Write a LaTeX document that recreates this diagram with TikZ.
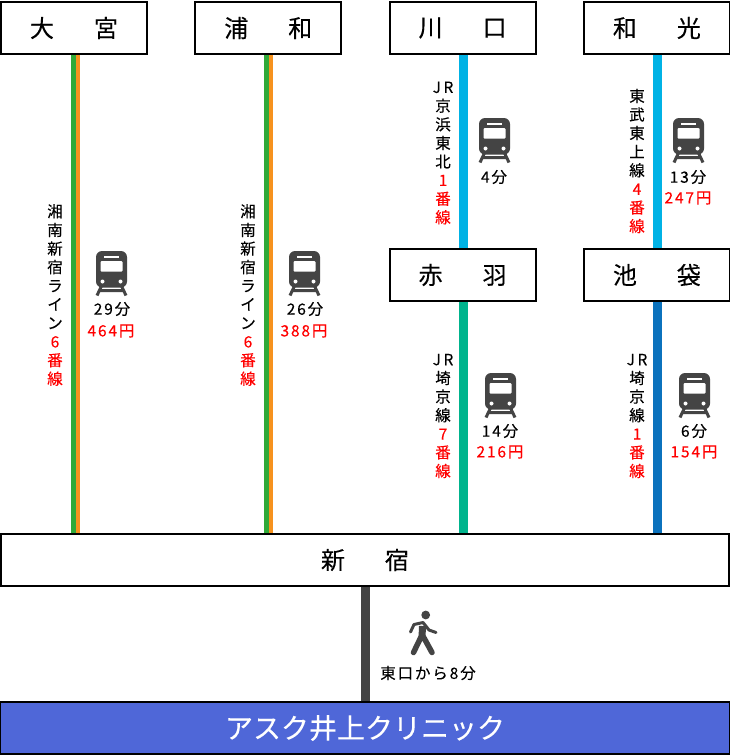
\documentclass[tikz,border=0pt]{standalone}
\usepackage{fontspec}
\usepackage{xcolor}
\setmainfont[FakeBold=0.2]{Noto Sans CJK JP}
\newfontfamily\spacedfont[LetterSpace=12,FakeBold=0.2]{Noto Sans CJK JP}
\usetikzlibrary{positioning}
\definecolor{jrgreen}{HTML}{2FA938}
\definecolor{jrorange}{HTML}{F6921E}
\definecolor{skyline}{HTML}{00B2E5}
\definecolor{saikyo}{HTML}{00B48D}
\definecolor{deepline}{HTML}{0B72BD}
\definecolor{darkicon}{HTML}{444444}
\definecolor{clinicblue}{HTML}{4F67D8}
\tikzset{
    station/.style={draw=black, line width=2pt, fill=white, minimum width=146pt, minimum height=51.5pt, inner sep=0pt, font=\fontsize{24}{24}\selectfont},
    rail/.style={line width=#1, line cap=butt},
    vlabel/.style={align=center, inner sep=0pt, font=\fontsize{15.5}{18.6}\selectfont},
    timelabel/.style={inner sep=0pt, font=\fontsize{15.5}{15.5}\spacedfont},
    farelabel/.style={inner sep=0pt, text=red, font=\fontsize{15.5}{15.5}\spacedfont},
    trainicon/.pic={
        \fill[darkicon, rounded corners=6pt] (-15.5,0) rectangle (15.5,36.5);
        \draw[darkicon, line width=3pt] (-10,35) -- (-14.5,44.5) (10,35) -- (14.5,44.5) (-12,39.5) -- (12,39.5);
        \fill[white, rounded corners=1pt] (-11,10) rectangle (11,20.5);
        \fill[white] (-7.5,4.5) rectangle (7.5,6.5);
        \fill[white] (-9,30.5) circle (2pt) (9,30.5) circle (2pt);
    },
    walkericon/.pic={
        \fill[darkicon] (2.7,-26) circle (4.4pt);
        \draw[darkicon, line width=7pt, line join=round] (-0.5,-15) -- (-1,-3);
        \draw[darkicon, line width=5.5pt, line cap=round, line join=round] (-2,-4) -- (-9.5,11.5) (0.5,-4) -- (9,11.5);
        \draw[darkicon, line width=3pt, line cap=round, line join=round] (-12.5,-9) -- (-9,-16.5) -- (0,-18.5) -- (6,-11) -- (13,-8.5);
    }
}
\begin{document}
\begin{tikzpicture}[x=1pt, y=-1pt, on grid]
    \useasboundingbox (0,0) rectangle (730,756);
    \fill[white] (0,0) rectangle (730,756);

    \node[station] (omiya) at (74,28) {大\hspace{40pt}宮};
    \node[station, right=194.3pt of omiya] (urawa) {浦\hspace{40pt}和};
    \node[station, right=194.3pt of urawa] (kawaguchi) {川\hspace{40pt}口};
    \node[station, right=194.3pt of kawaguchi] (wako) {和\hspace{40pt}光};
    \node[station, below=247pt of kawaguchi] (akabane) {赤\hspace{40pt}羽};
    \node[station, below=247pt of wako] (ikebukuro) {池\hspace{40pt}袋};
    \node[station, minimum width=728pt] (shinjuku) at (365,560) {新\hspace{40pt}宿\hspace{4pt}};
    \node[station, minimum width=730pt, fill=clinicblue, text=white, below=168pt of shinjuku, font=\fontsize{28}{28}\selectfont] (clinic) {アスク井上クリニック};

    \draw[rail=4.5pt, jrgreen] ([xshift=-0.5pt]omiya.south) -- ([xshift=-0.5pt]omiya.south |- shinjuku.north);
    \draw[rail=4.5pt, jrorange] ([xshift=4pt]omiya.south) -- ([xshift=4pt]omiya.south |- shinjuku.north);
    \draw[rail=4.5pt, jrgreen] ([xshift=-2pt]urawa.south) -- ([xshift=-2pt]urawa.south |- shinjuku.north);
    \draw[rail=4.5pt, jrorange] ([xshift=2.5pt]urawa.south) -- ([xshift=2.5pt]urawa.south |- shinjuku.north);
    \draw[rail=9pt, skyline] ([xshift=1pt]kawaguchi.south) -- ([xshift=1pt]akabane.north);
    \draw[rail=9pt, saikyo] ([xshift=1pt]akabane.south) -- ([xshift=1pt]akabane.south |- shinjuku.north);
    \draw[rail=9pt, skyline] ([xshift=1pt]wako.south) -- ([xshift=1pt]ikebukuro.north);
    \draw[rail=9pt, deepline] ([xshift=1pt]ikebukuro.south) -- ([xshift=1pt]ikebukuro.south |- shinjuku.north);
    \draw[rail=9pt, darkicon] (shinjuku.south) -- (clinic.north);

    \node[vlabel] (lineA) at (55,295) {湘\\南\\新\\宿\\ラ\\イ\\ン\\\textcolor{red}{6}\\\textcolor{red}{番}\\\textcolor{red}{線}};
    \node[vlabel] (lineB) at (248,295) {湘\\南\\新\\宿\\ラ\\イ\\ン\\\textcolor{red}{6}\\\textcolor{red}{番}\\\textcolor{red}{線}};
    \node[vlabel] (lineC) at (443,153) {J\,R\\京\\浜\\東\\北\\\textcolor{red}{1}\\\textcolor{red}{番}\\\textcolor{red}{線}};
    \node[vlabel] (lineD) at (637,161) {東\\武\\東\\上\\線\\\textcolor{red}{4}\\\textcolor{red}{番}\\\textcolor{red}{線}};
    \node[vlabel] (lineE) at (443,416) {J\,R\\埼\\京\\線\\\textcolor{red}{7}\\\textcolor{red}{番}\\\textcolor{red}{線}};
    \node[vlabel] (lineF) at (637,416) {J\,R\\埼\\京\\線\\\textcolor{red}{1}\\\textcolor{red}{番}\\\textcolor{red}{線}};

    \pic at (111.5,251) {trainicon};
    \pic at (304.5,251) {trainicon};
    \pic at (494.5,118) {trainicon};
    \pic at (688.5,118) {trainicon};
    \pic at (500.5,373) {trainicon};
    \pic at (694.5,373) {trainicon};

    \node[timelabel] (timeA) at (112,309) {29分};
    \node[farelabel] (fareA) at (111,331) {464円};
    \node[timelabel] (timeB) at (305,309) {26分};
    \node[farelabel] (fareB) at (304,331) {388円};
    \node[timelabel] (timeC) at (494,177) {4分};
    \node[timelabel] (timeD) at (688,177) {13分};
    \node[farelabel] (fareD) at (688,198) {247円};
    \node[timelabel] (timeE) at (500,431) {14分};
    \node[farelabel] (fareE) at (500,452) {216円};
    \node[timelabel] (timeF) at (694,431) {6分};
    \node[farelabel] (fareF) at (694,452) {154円};

    \pic at (423,641) {walkericon};
    \node[timelabel] (walktime) at (428,673) {東口から8分};
\end{tikzpicture}
\end{document}
